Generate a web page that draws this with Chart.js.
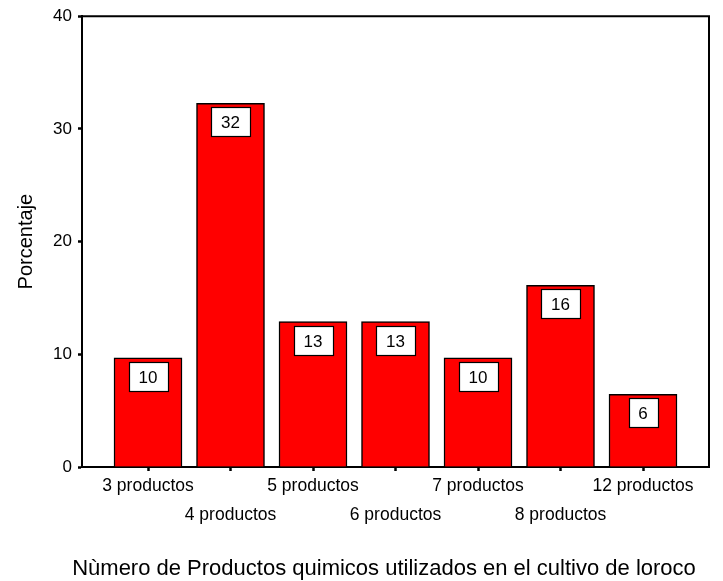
<!DOCTYPE html>
<html>
<head>
<meta charset="utf-8">
<script src="https://cdn.jsdelivr.net/npm/chart.js@4/dist/chart.umd.min.js"></script>
<style>
  html, body { margin: 0; padding: 0; background: #ffffff; }
  #wrap { width: 723px; height: 581px; position: relative; }
</style>
</head>
<body>
<div id="wrap"><canvas id="chart"></canvas></div>
<script>
// Number of chemical products used per grower (31 growers surveyed)
const categories = ['3 productos', '4 productos', '5 productos', '6 productos', '7 productos', '8 productos', '12 productos'];
const counts = [3, 10, 4, 4, 3, 5, 2];
const totalGrowers = 31;
const percentages = counts.map(c => (c / totalGrowers) * 100);
const yTicks = [0, 10, 20, 30, 40];
const yTitle = 'Porcentaje';
const xTitle = 'Nùmero de Productos quimicos utilizados en el cultivo de loroco';

const FONT = '"Liberation Sans", Arial, Helvetica, sans-serif';

// White boxed value label near the top of each bar
const valueBoxes = {
  id: 'valueBoxes',
  afterDatasetsDraw(chart) {
    const ctx = chart.ctx;
    const meta = chart.getDatasetMeta(0);
    ctx.save();
    ctx.font = '17px ' + FONT;
    ctx.textAlign = 'center';
    ctx.textBaseline = 'middle';
    meta.data.forEach((bar, i) => {
      const txt = String(Math.round(percentages[i]));
      const w = Math.round(ctx.measureText(txt).width + 20);
      const h = 29;
      const x = Math.round(bar.x - w / 2) + 0.5;
      const y = Math.round(bar.y + 4) + 0.5;
      ctx.fillStyle = '#ffffff';
      ctx.fillRect(x, y, w, h);
      ctx.strokeStyle = '#000000';
      ctx.lineWidth = 1.2;
      ctx.strokeRect(x, y, w, h);
      ctx.fillStyle = '#000000';
      ctx.fillText(txt, bar.x, y + h / 2 + 1);
    });
    ctx.restore();
  }
};

// Top and right frame lines plus the horizontal axis caption
const frameAndCaption = {
  id: 'frameAndCaption',
  afterDraw(chart) {
    const { ctx, chartArea } = chart;
    ctx.save();
    ctx.strokeStyle = '#000000';
    ctx.lineWidth = 2;
    ctx.beginPath();
    ctx.moveTo(chartArea.left, chartArea.top);
    ctx.lineTo(chartArea.right, chartArea.top);
    ctx.lineTo(chartArea.right, chartArea.bottom);
    ctx.stroke();
    ctx.fillStyle = '#000000';
    ctx.font = '22px ' + FONT;
    ctx.textAlign = 'center';
    ctx.textBaseline = 'middle';
    ctx.fillText(xTitle, 384, 569);
    ctx.restore();
  }
};

new Chart(document.getElementById('chart'), {
  type: 'bar',
  data: {
    datasets: [{
      data: percentages.map((v, i) => ({ x: i, y: v })),
      backgroundColor: '#ff0000',
      borderColor: '#000000',
      borderWidth: 1.5,
      barThickness: 68
    }]
  },
  options: {
    responsive: true,
    maintainAspectRatio: false,
    animation: false,
    layout: { padding: { top: 15, right: 14, left: 0, bottom: 0 } },
    plugins: {
      legend: { display: false },
      tooltip: { enabled: false }
    },
    scales: {
      x: {
        type: 'linear',
        offset: false,
        min: -0.8,
        max: 6.8,
        afterBuildTicks(scale) {
          scale.ticks = categories.map((_, i) => ({ value: i }));
        },
        afterFit(scale) { scale.height = 114; },
        grid: {
          offset: false,
          drawOnChartArea: false,
          drawTicks: true,
          tickLength: 4,
          tickWidth: 2.5,
          tickColor: '#000000'
        },
        border: { display: true, color: '#000000', width: 2 },
        ticks: {
          autoSkip: false,
          maxRotation: 0,
          minRotation: 0,
          padding: 1,
          color: '#000000',
          font: { family: FONT, size: 17.5, lineHeight: 29 / 17.5 },
          callback(value) {
            const i = Math.round(value);
            const label = categories[i];
            return i % 2 === 0 ? [label] : ['', label];
          }
        }
      },
      y: {
        min: 0,
        max: 40,
        afterBuildTicks(scale) {
          scale.ticks = yTicks.map(v => ({ value: v }));
        },
        afterFit(scale) { scale.width = 82; },
        grid: {
          drawOnChartArea: false,
          drawTicks: true,
          tickLength: 4,
          tickWidth: 2.5,
          tickColor: '#000000'
        },
        border: { display: true, color: '#000000', width: 2 },
        ticks: {
          padding: 6,
          color: '#000000',
          font: { family: FONT, size: 17 }
        },
        title: {
          display: true,
          text: yTitle,
          color: '#000000',
          padding: { top: 14, bottom: 0 },
          font: { family: FONT, size: 20 }
        }
      }
    }
  },
  plugins: [valueBoxes, frameAndCaption]
});
</script>
</body>
</html>
